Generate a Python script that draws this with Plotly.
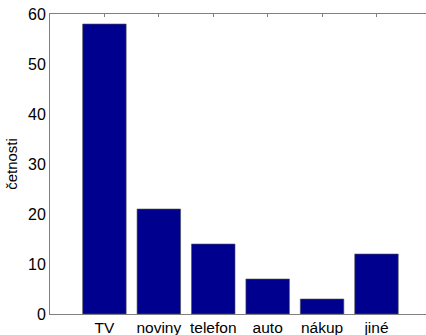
import plotly.graph_objects as go

# Category labels and counts
categories = ["TV", "noviny", "telefon", "auto", "nákup", "jiné"]
counts = [58, 21, 14, 7, 3, 12]
positions = [1, 2, 3, 4, 5, 6]

y_ticks = [0, 10, 20, 30, 40, 50, 60]

axis_gray = "#7f7f7f"
font_family = "Liberation Sans, Arial, Helvetica, sans-serif"

fig = go.Figure(
    go.Bar(
        x=positions,
        y=counts,
        width=0.8,
        marker=dict(color="#00008f", line=dict(color="#555555", width=0.6)),
        hoverinfo="skip",
    )
)

fig.update_layout(
    width=426,
    height=335,
    margin=dict(l=50, r=0, t=14, b=21),
    paper_bgcolor="white",
    plot_bgcolor="white",
    showlegend=False,
    font=dict(family=font_family, size=16, color="black"),
    bargap=0.2,
)

fig.update_xaxes(
    range=[0, 6.91],
    tickmode="array",
    tickvals=positions,
    ticktext=categories,
    ticks="inside",
    ticklen=3,
    tickcolor=axis_gray,
    showline=True,
    linecolor=axis_gray,
    linewidth=1,
    mirror="ticks",
    showgrid=False,
    zeroline=False,
    layer="below traces",
    tickfont=dict(size=15.5),
    ticklabelstandoff=-1,
    automargin=False,
)

fig.update_yaxes(
    range=[0, 60],
    tickmode="array",
    tickvals=y_ticks,
    ticks="",
    showline=True,
    linecolor=axis_gray,
    linewidth=1,
    mirror=False,
    showgrid=False,
    zeroline=False,
    layer="below traces",
    tickfont=dict(size=16),
    automargin=False,
    title=dict(text="četnosti", font=dict(size=15), standoff=6),
)

fig.write_html("out.html")
